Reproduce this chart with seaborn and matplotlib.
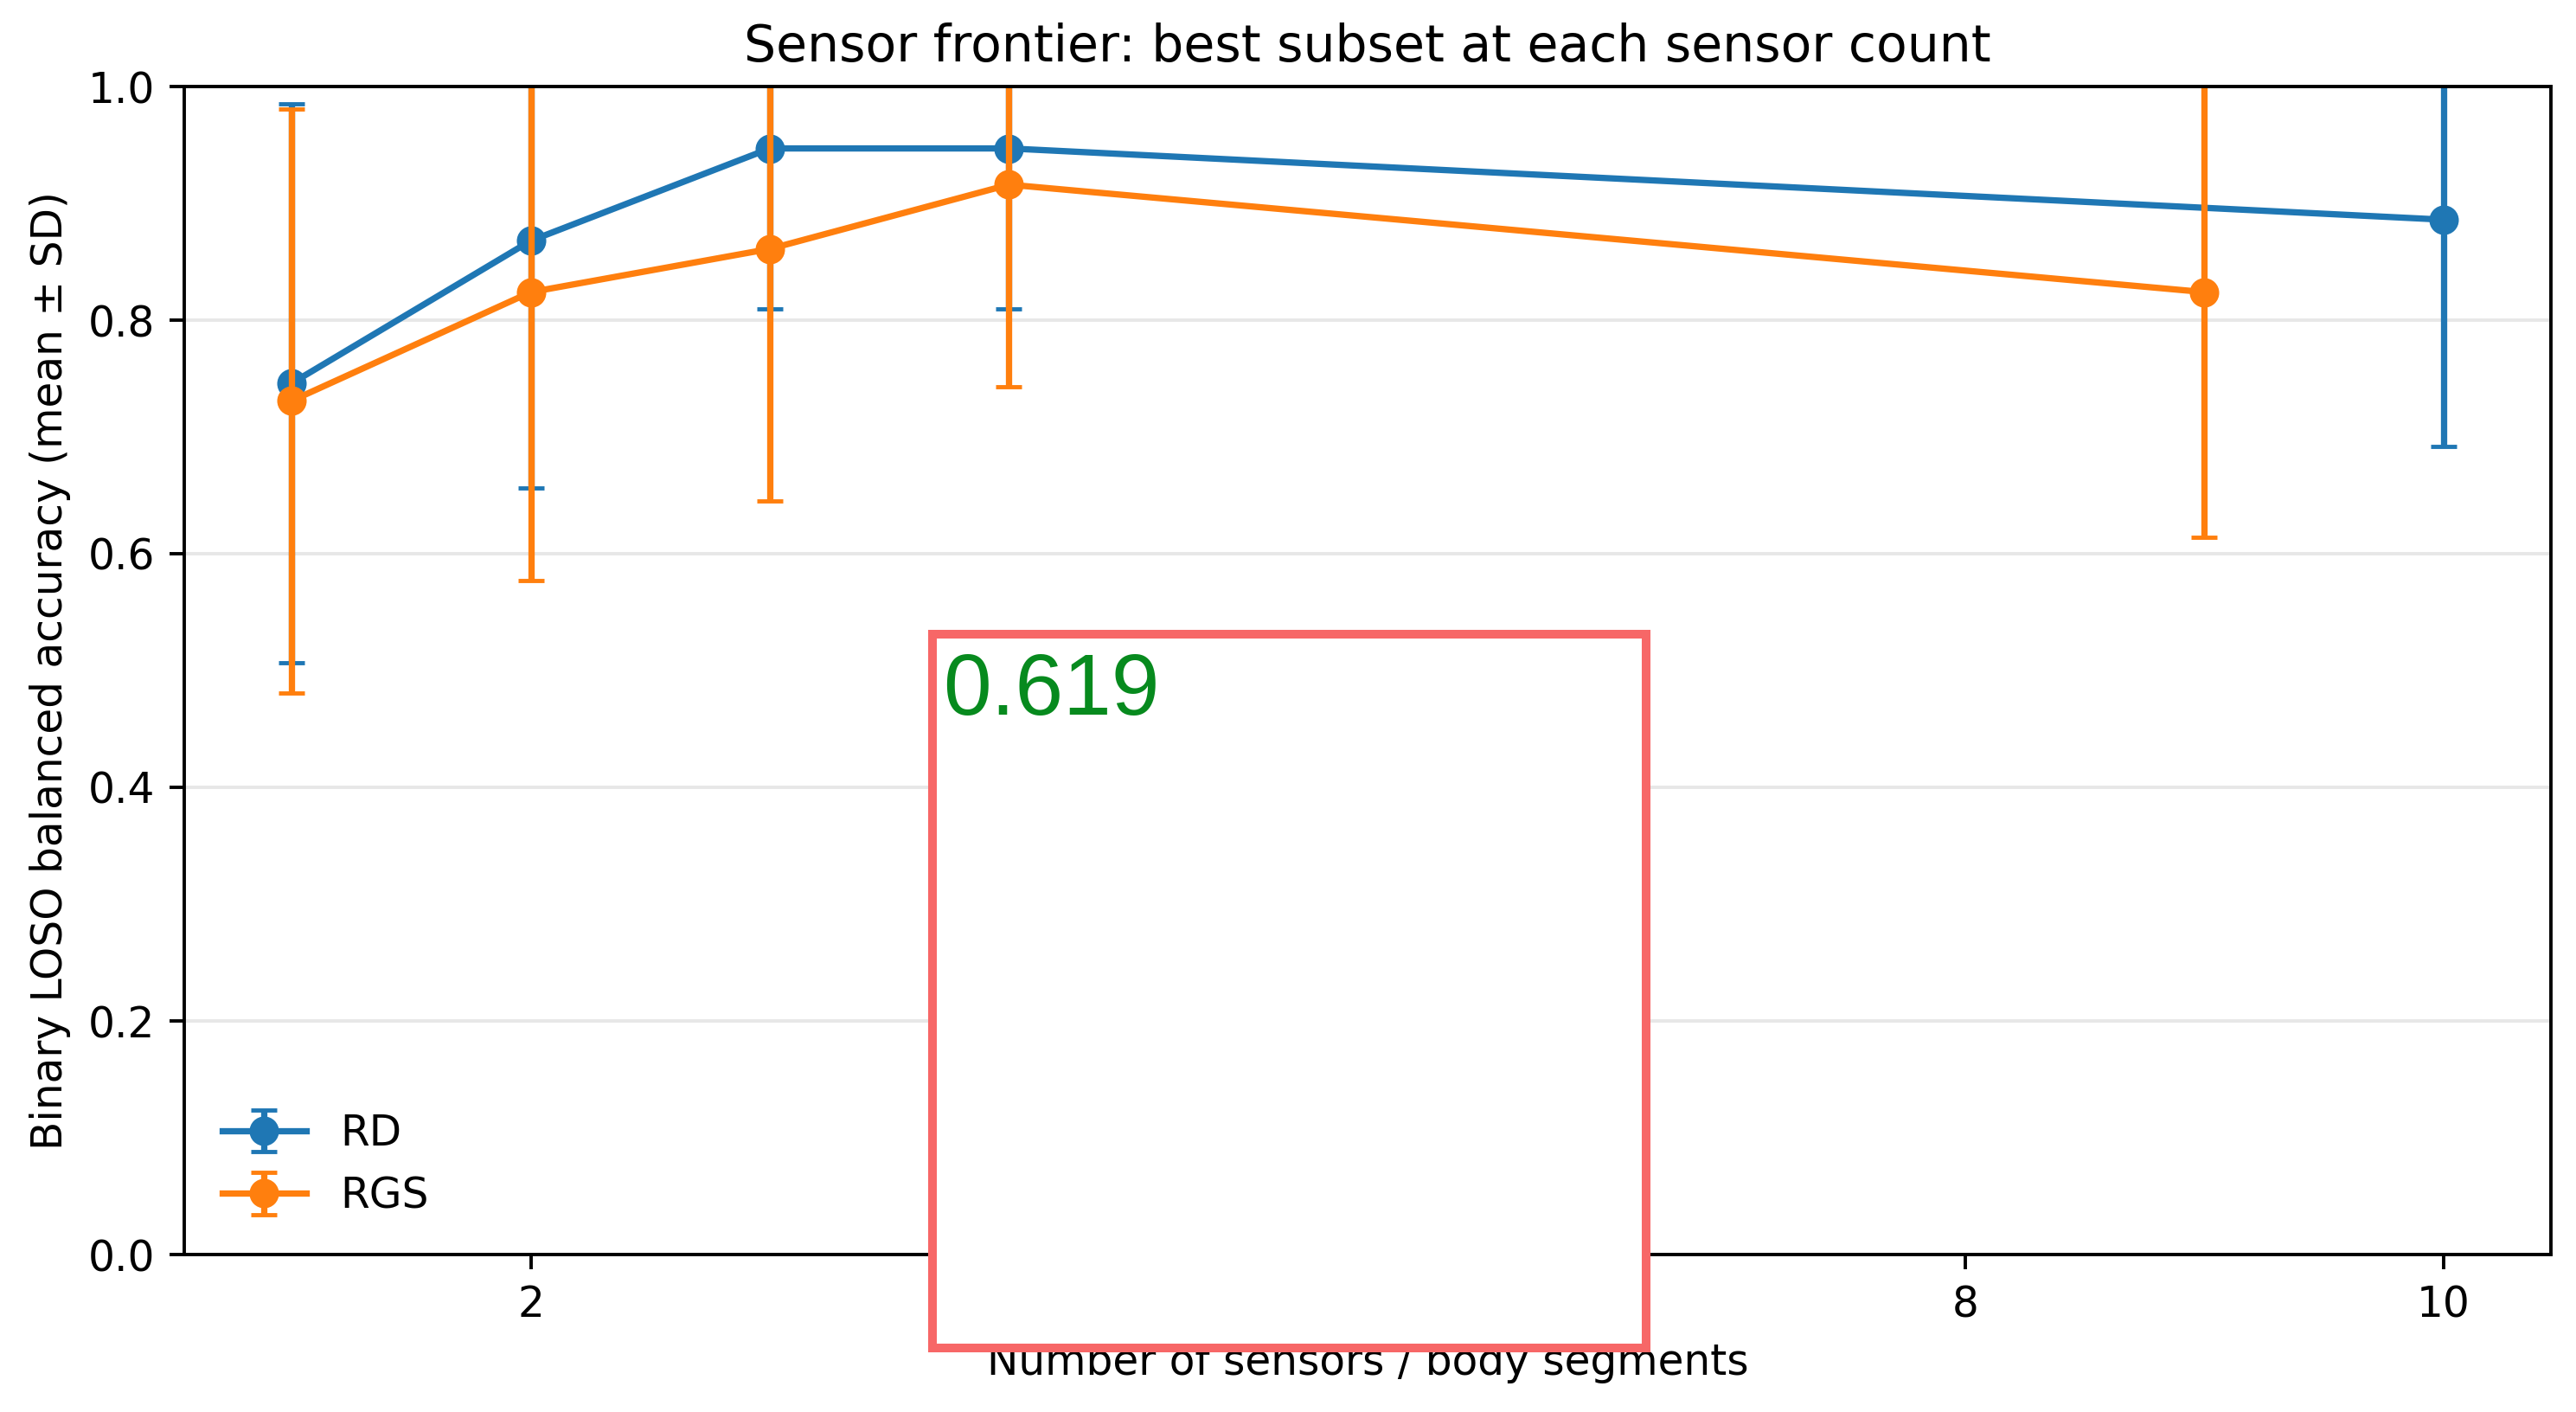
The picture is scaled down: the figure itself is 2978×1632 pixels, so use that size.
import numpy as np
import pandas as pd
import matplotlib
matplotlib.use("Agg")
import matplotlib.pyplot as plt
from matplotlib.patches import Rectangle
import seaborn as sns

# best subset per sensor count, binary LOSO balanced accuracy (mean, SD)
rd_n = [1, 2, 3, 4, 10]
rd_mean = [0.746, 0.868, 0.947, 0.947, 0.886]
rd_sd = [0.239, 0.212, 0.137, 0.137, 0.194]

rgs_n = [1, 2, 3, 4, 9]
rgs_mean = [0.731, 0.824, 0.861, 0.916, 0.824]
rgs_sd = [0.250, 0.247, 0.216, 0.173, 0.210]

groups = ["RD", "RGS"]
overlay_value = "0.619"

df = pd.concat([
    pd.DataFrame({"n": rd_n, "mean": rd_mean, "sd": rd_sd, "group": "RD"}),
    pd.DataFrame({"n": rgs_n, "mean": rgs_mean, "sd": rgs_sd, "group": "RGS"}),
])

W, H, DPI = 2979, 1632, 350
fig, ax = plt.subplots(figsize=(W / DPI, H / DPI), dpi=DPI)
fig.subplots_adjust(left=213 / W, right=2949 / W, top=1 - 100 / H, bottom=1 - 1450 / H)

palette = sns.color_palette("tab10", 2)
handles = []
for g, c in zip(groups, palette):
    d = df[df["group"] == g]
    sns.lineplot(data=d, x="n", y="mean", color=c, marker="o", markersize=6,
                 markeredgecolor=c, markeredgewidth=1, linewidth=1.5, ax=ax)
    ax.errorbar(d["n"], d["mean"], yerr=d["sd"], fmt="none", ecolor=c,
                elinewidth=1.5, capsize=3)
    # legend proxy: errorbar-style handle (line + marker + caps), draws nothing
    proxy = ax.errorbar([np.nan], [np.nan], yerr=[np.nan], fmt="o-", color=c,
                        markersize=6, linewidth=1.5, elinewidth=1.5, capsize=3)
    handles.append(proxy)

ax.set_ylim(0, 1.0)
ax.grid(axis="y", alpha=0.3)
ax.set_xlabel("Number of sensors / body segments")
ax.set_ylabel("Binary LOSO balanced accuracy (mean ± SD)")
ax.set_title("Sensor frontier: best subset at each sensor count")
ax.legend(handles, groups, loc="lower left", frameon=False)

# overlay box with value
x0, x1 = 1077.7 / W, 1903 / W
y0, y1 = 1 - 1558 / H, 1 - 733.5 / H
fig.add_artist(Rectangle((x0, y0), x1 - x0, y1 - y0, transform=fig.transFigure,
                         facecolor="white", edgecolor="#F76767", linewidth=2.06,
                         zorder=10))
fig.text(1090 / W, 1 - 826 / H, overlay_value, color="#078A1E", fontsize=20.6,
         family=["Liberation Sans", "DejaVu Sans"], ha="left", va="baseline",
         zorder=11)

fig.savefig("out.png", dpi=DPI)
